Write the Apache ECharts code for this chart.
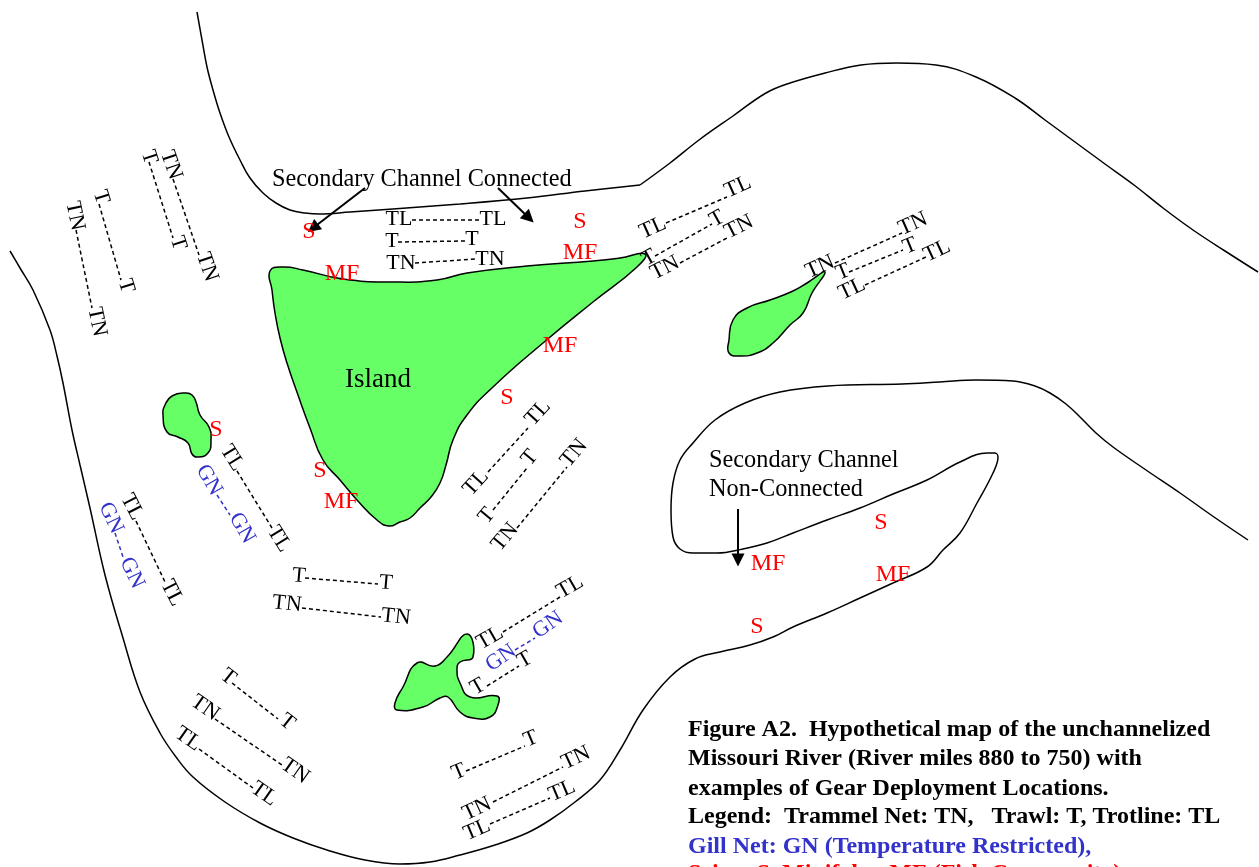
<!DOCTYPE html>
<html>
<head>
<meta charset="utf-8">
<style>html,body{margin:0;padding:0;background:#fff;overflow:hidden;height:867px}#c{width:1259px;height:900px}</style>
<script src="https://cdn.jsdelivr.net/npm/echarts@6/dist/echarts.min.js"></script>
</head>
<body>
<div id="c"></div>
<script>
const northBankWest = [[197,12],[202,40],[207,67],[213,90],[220,113],[229,137],[240,160],[250,178],[263,193],[276,203],[290,210],[305,213],[320,214],[350,212],[393,209],[460,204],[527,198],[585,191],[640,185]];
const northBankEast = [[640,185],[670,163],[699,140],[733,116],[766,93],[790,83],[825,73],[861,65],[897,63],[936,65],[976,77],[1015,98],[1045,120],[1075,142],[1105,164],[1134,185],[1163,208],[1193,230],[1225,251],[1258,272]];
const southBank = [[10,251],[20,268],[33,290],[50,330],[57,356],[63,383],[72,430],[80,465],[90,508],[105,575],[123,638],[140,692],[160,733],[176,757],[193,777],[225,802],[260,823],[293,838],[327,850],[365,860],[400,864],[430,862],[460,855],[495,845],[527,833],[550,820],[575,802],[600,780],[620,750],[643,710],[670,677],[695,659],[720,652],[750,645],[773,637],[793,627],[827,613],[860,598],[893,583],[927,567],[943,550],[960,533],[977,503],[993,473],[998,457],[995,453],[987,453],[960,462],[927,480],[893,494],[860,508],[827,520],[793,533],[767,543],[743,549],[717,553],[693,553],[680,549],[673,537],[671,510],[673,483],[680,460],[693,443],[715,420],[745,403],[780,392],[828,386],[902,384],[940,382],[976,380],[1013,381],[1035,386],[1050,393],[1066,404],[1080,417],[1096,433],[1113,447],[1146,470],[1180,493],[1214,517],[1248,540]];
const mainIsland = [[270,271],[283,267],[303,270],[343,279],[393,282],[437,280],[467,273],[527,266],[593,261],[620,258],[645,254],[637,267],[593,302],[543,343],[493,387],[467,415],[453,440],[446,465],[440,483],[431,497],[420,508],[410,518],[400,522],[389,526],[377,520],[357,500],[340,480],[323,460],[310,428],[298,395],[287,363],[280,338],[275,313],[272,290]];
const eastIsland = [[825,272],[812,293],[803,313],[790,325],[773,343],[757,353],[740,356],[729,353],[729,340],[733,320],[747,308],[770,300],[793,291],[807,283]];
const westIsland = [[186,393],[172,396],[165,405],[163,415],[167,432],[178,437],[188,443],[192,454],[197,457],[208,453],[211,440],[209,427],[200,415],[196,402],[192,395]];
const southIsland = [[467,634],[473,657],[460,662],[457,670],[460,683],[470,697],[497,696],[498,705],[490,717],[473,718],[460,712],[448,697],[440,698],[423,707],[397,710],[395,703],[403,687],[417,663],[435,666],[447,657]];

const blackGearLines = [
  [[412,220],[480,220]],[[398,242],[465,241]],[[415,263],[476,259]],
  [[149,162],[173,238]],[[173,179],[199,255]],[[99,204],[121,280]],[[76,230],[92,308]],
  [[666,223],[727,197]],[[655,256],[712,224]],[[680,263],[727,238]],
  [[835,263],[902,233]],[[849,272],[903,250]],[[865,285],[926,257]],
  [[237,471],[272,528]],[[136,521],[165,582]],[[305,578],[378,584]],[[302,608],[381,617]],
  [[488,472],[528,428]],[[493,510],[527,468]],[[517,528],[567,467]],[[503,632],[560,597]],[[487,686],[519,666]],
  [[232,683],[278,719]],[[215,719],[282,765]],[[199,749],[253,788]],
  [[466,771],[525,746]],[[493,802],[563,767]],[[490,824],[550,798]]
];
const blueGearLines = [[[217,495],[230,515]],[[115,533],[123,557]],[[515,650],[535,638]]];

// text, x, y, rotation in degrees
const blackGearLabels = [
  ['TL',399,218,0],['TL',493,218,0],['T',392,240,0],['T',472,238,0],['TN',401,262,0],['TN',490,258,0],
  ['T',149,157,-72],['T',178,243,-72],['TN',171,165,-71],['TN',207,267,-71],['T',101,197,-73],['T',126,286,-73],['TN',75,216,-78],['TN',97,322,-78],
  ['TL',653,228,24],['TL',738,187,24],['T',649,258,29],['T',717,219,29],['TN',665,268,27],['TN',739,227,27],
  ['TN',820,267,24],['TN',913,224,24],['T',843,272,22],['T',910,246,22],['TL',852,289,25],['TL',937,251,25],
  ['TL',232,458,-58],['TL',279,539,-58],['TL',132,507,-63],['TL',172,593,-63],
  ['T',299,576,-5],['T',386,583,-5],['TN',287,604,-6],['TN',396,617,-6],
  ['TL',476,483,48],['TL',538,413,48],['T',487,516,50],['T',530,458,50],['TN',505,537,50],['TN',574,453,50],
  ['TL',490,638,30],['TL',570,587,30],['T',478,687,30],['T',525,660,30],
  ['T',228,677,-38],['T',287,722,-38],['TN',205,708,-35],['TN',295,771,-35],['TL',188,739,-35],['TL',264,794,-35],
  ['T',459,772,23],['T',531,739,23],['TN',477,809,25],['TN',576,758,25],['TL',477,830,23],['TL',562,791,23]
];
const blueGearLabels = [['GN',209,480,-60],['GN',242,528,-60],['GN',111,518,-65],['GN',132,573,-65],['GN',501,658,35],['GN',548,625,35]];
const redSiteLabels = [['S',309,230],['MF',342,272],['S',580,220],['MF',580,251],['MF',560,344],['S',507,396],['S',216,428],['S',320,469],['MF',341,500],['S',881,521],['MF',768,562],['MF',893,573],['S',757,625]];
const placeLabels = [['Secondary Channel Connected',272,178],['Secondary Channel',709,459],['Non-Connected',709,488]];
const islandLabel = [['Island',345,378]];
const captionBlack = [['Figure A2.  Hypothetical map of the unchannelized',688,728],['Missouri River (River miles 880 to 750) with',688,757],['examples of Gear Deployment Locations.',688,787],['Legend:  Trammel Net: TN,   Trawl: T, Trotline: TL',688,815]];
const captionBlue = [['Gill Net: GN (Temperature Restricted),',688,845]];
const captionRed = [['Seine: S, Minifyke: MF (Fish Community)',688,872]];
const arrows = [[[365,188],[313,228]],[[498,188],[529,218]],[[738,509],[738,560]]];

const SERIF = '"Liberation Serif","Times New Roman",serif';
const withBreaks = segs => segs.flatMap(s => [s[0], s[1], [null, null]]);

function bank(points) {
  return {type:'line', data:points, smooth:0.4, showSymbol:false, symbol:'none', silent:true, z:3,
    lineStyle:{color:'#000', width:1.5}};
}
function island(points) {
  return {type:'custom', coordinateSystem:'cartesian2d', data:[0], silent:true, z:2,
    renderItem:(p, api) => ({type:'polygon',
      shape:{points:points.map(q => api.coord(q)), smooth:0.5},
      style:{fill:'#66ff66', stroke:'#000', lineWidth:1.5}})};
}
function gearLines(segs, color) {
  return {type:'line', data:withBreaks(segs), connectNulls:false, showSymbol:false, symbol:'none', silent:true, z:4,
    lineStyle:{color, width:1.5, type:[4,3]}};
}
function texts(rows, color, size, weight, align, dy) {
  return {type:'scatter', silent:true, z:6, symbolSize:1, itemStyle:{color:'rgba(0,0,0,0)', opacity:1},
    data:rows.map(r => ({value:[r[1], r[2]],
      label:{show:true, position:'inside', formatter:r[0], rotate:r[3] || 0, offset:[0, r[3] ? 0 : dy], color, fontFamily:SERIF,
        fontSize:size, fontWeight:weight, align, verticalAlign:'middle'}}))};
}

const option = {
  animation:false, backgroundColor:'#fff',
  grid:{left:0, top:0, width:1259, height:900},
  xAxis:{type:'value', min:0, max:1259, show:false},
  yAxis:{type:'value', min:0, max:900, inverse:true, show:false},
  series:[
    bank(northBankWest), bank(northBankEast), bank(southBank),
    island(mainIsland), island(eastIsland), island(westIsland), island(southIsland),
    gearLines(blackGearLines, '#000'), gearLines(blueGearLines, '#3333cc'),
    {type:'line', data:[], silent:true, z:5,
     markLine:{silent:true, animation:false, symbol:['none','triangle'], symbolSize:13, label:{show:false},
       lineStyle:{color:'#000', width:2, type:'solid'},
       data:arrows.map(a => [{coord:a[0]},{coord:a[1]}])}},
    texts(blackGearLabels, '#000', 22, 'normal', 'center', 1),
    texts(blueGearLabels, '#3333cc', 22, 'normal', 'center', 1),
    texts(redSiteLabels, '#ff0000', 24, 'normal', 'center', 2),
    texts(placeLabels, '#000', 24.3, 'normal', 'left', 2),
    texts(islandLabel, '#000', 27, 'normal', 'left', 2),
    texts(captionBlack, '#000', 24, 'bold', 'left', 2),
    texts(captionBlue, '#3333cc', 24, 'bold', 'left', 2),
    texts(captionRed, '#ff0000', 24, 'bold', 'left', 2)
  ]
};
echarts.init(document.getElementById('c')).setOption(option);
</script>
</body>
</html>
